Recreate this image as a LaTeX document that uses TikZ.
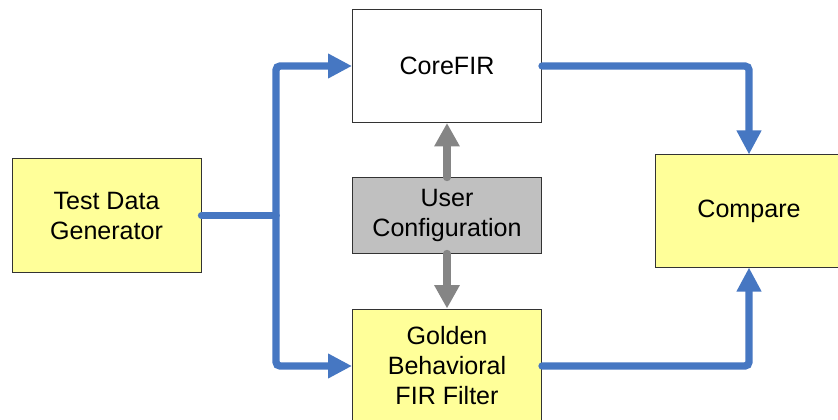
\documentclass[tikz,border=0pt]{standalone}
\usepackage{fontspec}
\setmainfont{Liberation Sans}
\usetikzlibrary{arrows.meta}
\definecolor{boxyellow}{HTML}{FFFF99}
\definecolor{boxgray}{HTML}{C0C0C0}
\definecolor{flowblue}{HTML}{4677C2}
\definecolor{cfggray}{HTML}{858585}
\begin{document}
\begin{tikzpicture}[x=0.75pt,y=-0.75pt,
  blockbox/.style={draw=black!80,line width=0.75pt,inner sep=0pt,align=center,
    font=\fontsize{18.8pt}{22.5pt}\selectfont},
  yellowbox/.style={blockbox,fill=boxyellow},
  flow/.style={draw=flowblue,line width=5.5pt,line cap=round,rounded corners=3pt,
    -{Triangle[length=18pt,width=17.5pt]}},
  flowplain/.style={draw=flowblue,line width=5.5pt,line cap=round},
  cfg/.style={draw=cfggray,line width=5.5pt,line cap=round,
    -{Triangle[length=17.5pt,width=18pt]}}]
\useasboundingbox (0,0) rectangle (838,420);
\clip (0,0) rectangle (838,420);
\node[yellowbox,minimum width=189*0.75pt,minimum height=113*0.75pt] (tdg) at (106.5,215.5) {Test Data\\Generator};
\node[blockbox,fill=white,minimum width=189*0.75pt,minimum height=113*0.75pt] (core) at (447,66) {CoreFIR};
\node[blockbox,fill=boxgray,minimum width=189*0.75pt,minimum height=75*0.75pt] (user) at (447,215.5) {User\\Configuration};
\node[yellowbox,minimum width=189*0.75pt,minimum height=114*0.75pt] (gold) at (447,366) {Golden\\Behavioral\\FIR Filter};
\node[yellowbox,minimum width=188*0.75pt,minimum height=112*0.75pt] (cmp) at (749,211) {Compare};
\coordinate (j) at (276,215.5);
\draw[flowplain] (tdg.east) -- (j);
\draw[flow] (j) |- (core.west);
\draw[flow] (j) |- (gold.west);
\draw[flow] (core.east) -| (cmp.north);
\draw[flow] (gold.east) -| (cmp.south);
\draw[cfg] (user.north) -- (core.south);
\draw[cfg] (user.south) -- (gold.north);
\end{tikzpicture}
\end{document}
